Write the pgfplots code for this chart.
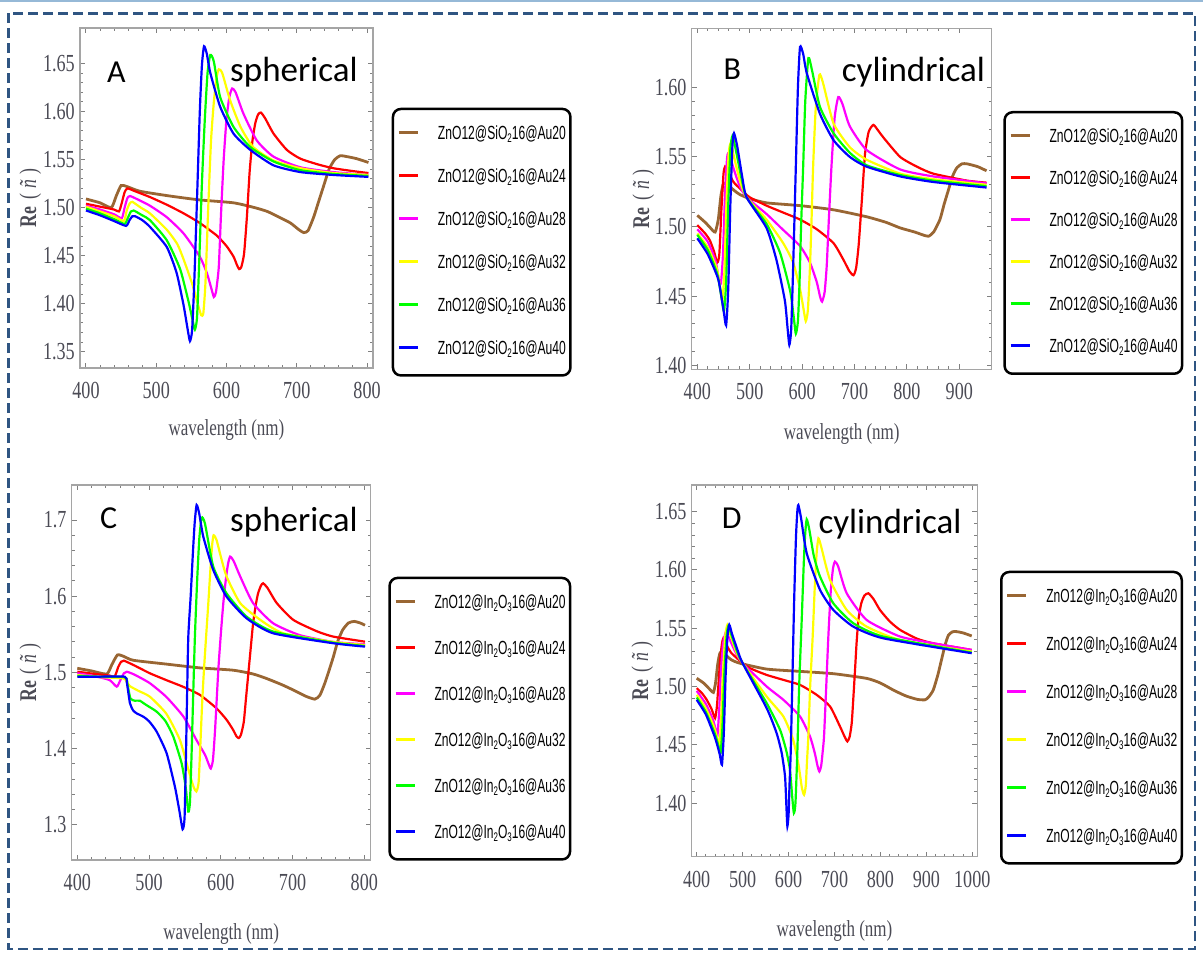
\documentclass[border=0pt]{standalone}
\usepackage{fontspec}
\usepackage{graphicx}
\usepackage{pgfplots}
\pgfplotsset{compat=1.18}
\newfontfamily\legfont{Liberation Sans}
\newfontfamily\tickfont[FakeStretch=0.74]{Liberation Serif}
\newfontfamily\titlefont{Carlito}
\definecolor{mbrown}{RGB}{153,102,51}
\definecolor{mred}{RGB}{255,0,0}
\definecolor{mmag}{RGB}{255,0,255}
\definecolor{myel}{RGB}{255,255,0}
\definecolor{mgreen}{RGB}{0,255,0}
\definecolor{mblue}{RGB}{0,0,255}
\definecolor{tickgray}{RGB}{75,75,85}
\definecolor{framegray}{RGB}{165,165,165}
\definecolor{borderblue}{RGB}{47,85,130}
\definecolor{lightblue}{RGB}{150,185,215}
\newcommand\sub[1]{\raisebox{-3bp}{\fontsize{12.5bp}{12.5bp}\selectfont #1}}
\newcommand\legS[1]{\resizebox{128bp}{\height}{ZnO12@SiO\sub{2}16@Au#1}}
\newcommand\legI[1]{\resizebox{131bp}{\height}{ZnO12@In\sub{2}O\sub{3}16@Au#1}}
\pgfplotsset{
 panel/.style={
  scale only axis, anchor=north west,
  axis line style={draw=framegray, line width=1.3bp},
  tick align=inside, xtick pos=both, ytick pos=both,
  xticklabel pos=lower, yticklabel pos=left,
  major tick length=5bp, minor tick length=3bp,
  tick style={draw=gray, line width=1bp},
  minor x tick num=4, minor y tick num=4,
  ticklabel style={font=\tickfont\fontsize{24.5bp}{26bp}\selectfont, text=tickgray},
  /pgf/number format/assume math mode=true,
  /pgf/number format/1000 sep={},
  scaled ticks=false,
  yticklabel style={anchor=east, inner sep=0pt, xshift=-5bp},
  xticklabel style={anchor=north, inner sep=0pt, yshift=-14bp},
  label style={font=\tickfont\fontsize{23bp}{25bp}\selectfont, text=tickgray},
  xlabel={wavelength (nm)},
  ylabel={\fontsize{24bp}{26bp}\selectfont{\bfseries Re}\hspace{7bp}(\hspace{5bp}\textit{ñ}\hspace{5bp})},
  legend cell align=left,
  legend image code/.code={\draw[##1,line width=3bp] (0bp,2bp) -- (19bp,2bp);},
  legend style={anchor=north west, draw=black, line width=2.5bp, rounded corners=8bp,
    inner xsep=4.5bp, inner ysep=17bp, column sep=18.5bp,
    font=\legfont\fontsize{19bp}{21bp}\selectfont,
    nodes={inner sep=0pt, text height=13.5bp, text depth=4bp}},
  every axis plot/.append style={line width=2.2bp, smooth, tension=0.35},
 },
 c20/.style={mbrown, line width=2.8bp},
 c24/.style={mred},
 c28/.style={mmag},
 c32/.style={myel},
 c36/.style={mgreen},
 c40/.style={mblue},
}
\begin{document}
\begin{tikzpicture}
\path[use as bounding box] (0,0) rectangle (1203bp,-954bp);
\draw[lightblue, line width=1.5bp] (0,-1bp) -- (1203bp,-1bp);
\draw[borderblue, line width=2.5bp, dash pattern=on 10bp off 5bp] (8.5bp,-13.3bp) rectangle (1195bp,-949bp);

% ---------------- A ----------------
\begin{axis}[panel, at={(80bp,-28bp)}, width=293bp, height=340bp,
  xmin=391.5, xmax=808.5, ymin=1.333, ymax=1.687,
  xtick={400,500,600,700,800}, ytick={1.35,1.40,1.45,1.50,1.55,1.60,1.65},
  yticklabel style={/pgf/number format/fixed, /pgf/number format/fixed zerofill, /pgf/number format/precision=2},
  xlabel style={at={(axis description cs:0.5,0)}, anchor=base, yshift=-67bp},
  ylabel style={at={(axis description cs:-0.150,0.5)}, anchor=base},
  legend style={at={(1.0638,0.7656)}, row sep=25.5bp}]
\addplot[c20] coordinates {(400,1.509) (420,1.505) (436,1.500) (443,1.512) (450,1.523) (458,1.522) (477,1.517) (520,1.512) (562,1.508) (610,1.505) (640,1.500) (658,1.496) (675,1.490) (691,1.484) (703,1.477) (710,1.474) (716,1.476) (724,1.490) (731,1.506) (738,1.522) (746,1.540) (754,1.550) (762,1.554) (772,1.553) (785,1.551) (802,1.547)};
\addlegendentry{\legS{20}}
\addplot[c24] coordinates {(400,1.504) (420,1.501) (440,1.498) (447,1.496) (451,1.505) (455,1.516) (459,1.520) (470,1.517) (491,1.511) (515,1.503) (539,1.494) (562,1.484) (586,1.471) (600,1.460) (610,1.449) (615,1.440) (618,1.436) (621,1.438) (625,1.452) (629,1.490) (633,1.538) (637,1.570) (641,1.588) (645,1.597) (649,1.599) (655,1.593) (667,1.577) (686,1.560) (705,1.551) (730,1.545) (752,1.541) (780,1.538) (802,1.536)};
\addlegendentry{\legS{24}}
\addplot[c28] coordinates {(400,1.502) (420,1.498) (440,1.493) (451,1.489) (455,1.500) (459,1.510) (463,1.512) (475,1.508) (491,1.502) (515,1.490) (539,1.473) (562,1.449) (572,1.432) (578,1.417) (582,1.407) (585,1.412) (589,1.438) (592,1.490) (596,1.550) (600,1.592) (604,1.615) (608,1.624) (613,1.620) (624,1.598) (643,1.570) (667,1.553) (705,1.542) (752,1.537) (802,1.534)};
\addlegendentry{\legS{28}}
\addplot[c32] coordinates {(400,1.501) (420,1.496) (440,1.491) (454,1.486) (458,1.497) (462,1.504) (466,1.506) (478,1.500) (491,1.494) (515,1.477) (530,1.462) (539,1.446) (551,1.421) (559,1.400) (564,1.388) (567,1.390) (570,1.421) (574,1.500) (578,1.570) (582,1.610) (586,1.636) (589,1.644) (594,1.640) (605,1.612) (620,1.584) (638,1.563) (667,1.549) (705,1.541) (752,1.536) (802,1.534)};
\addlegendentry{\legS{32}}
\addplot[c36] coordinates {(400,1.499) (420,1.494) (440,1.488) (455,1.483) (460,1.490) (464,1.496) (468,1.497) (480,1.492) (491,1.487) (515,1.466) (534,1.436) (546,1.402) (552,1.382) (555,1.373) (558,1.385) (561,1.440) (565,1.525) (569,1.590) (573,1.640) (577,1.659) (582,1.652) (591,1.615) (610,1.584) (634,1.563) (667,1.548) (705,1.539) (752,1.535) (802,1.533)};
\addlegendentry{\legS{36}}
\addplot[c40] coordinates {(400,1.497) (420,1.492) (440,1.486) (457,1.481) (462,1.487) (466,1.491) (470,1.491) (480,1.487) (491,1.480) (515,1.459) (529,1.432) (539,1.398) (545,1.372) (548,1.361) (551,1.372) (554,1.420) (558,1.508) (562,1.600) (565,1.648) (568,1.668) (572,1.660) (577,1.640) (591,1.605) (610,1.577) (634,1.560) (667,1.544) (705,1.537) (752,1.534) (802,1.532)};
\addlegendentry{\legS{40}}
\end{axis}

% ---------------- B ----------------
\begin{axis}[panel, at={(691.7bp,-28.3bp)}, width=300bp, height=341bp,
  xmin=389.3, xmax=961.8, ymin=1.3974, ymax=1.6424,
  xtick={400,500,600,700,800,900}, ytick={1.40,1.45,1.50,1.55,1.60},
  yticklabel style={/pgf/number format/fixed, /pgf/number format/fixed zerofill, /pgf/number format/precision=2},
  xlabel style={at={(axis description cs:0.5,0)}, anchor=base, yshift=-70bp},
  ylabel style={at={(axis description cs:-0.142,0.5)}, anchor=base},
  legend style={at={(1.0387,0.7575)}, row sep=24.5bp}]
\addplot[c20] coordinates {(400,1.508) (415,1.503) (425,1.499) (434,1.496) (440,1.505) (445,1.522) (450,1.531) (458,1.530) (470,1.526) (481,1.523) (500,1.520) (532,1.517) (596,1.515) (660,1.512) (723,1.507) (760,1.503) (787,1.499) (815,1.496) (830,1.494) (841,1.493) (851,1.496) (863,1.505) (871,1.516) (879,1.526) (887,1.536) (895,1.542) (905,1.545) (915,1.545) (935,1.543) (952,1.540)};
\addlegendentry{\legS{20}}
\addplot[c24] coordinates {(400,1.501) (415,1.495) (424,1.490) (432,1.482) (438,1.474) (442,1.480) (446,1.512) (450,1.538) (453,1.543) (458,1.540) (469,1.532) (485,1.526) (500,1.521) (532,1.515) (564,1.510) (596,1.505) (628,1.498) (660,1.488) (679,1.476) (690,1.468) (698,1.465) (703,1.470) (708,1.487) (714,1.519) (720,1.552) (727,1.568) (736,1.573) (745,1.569) (755,1.564) (787,1.550) (819,1.543) (850,1.538) (914,1.533) (952,1.5315)};
\addlegendentry{\legS{24}}
\addplot[c28] coordinates {(400,1.498) (420,1.489) (435,1.475) (441,1.462) (445,1.459) (449,1.480) (453,1.525) (457,1.550) (461,1.553) (468,1.543) (480,1.530) (494,1.521) (532,1.509) (564,1.4975) (596,1.486) (615,1.474) (628,1.460) (634,1.450) (638,1.446) (643,1.453) (647,1.472) (651,1.505) (656,1.543) (662,1.578) (669,1.593) (677,1.588) (691,1.572) (723,1.555) (787,1.541) (850,1.536) (952,1.531)};
\addlegendentry{\legS{28}}
\addplot[c32] coordinates {(400,1.495) (420,1.485) (437,1.470) (444,1.455) (448,1.447) (452,1.470) (456,1.520) (460,1.553) (464,1.560) (470,1.550) (482,1.532) (494,1.521) (532,1.505) (564,1.488) (583,1.474) (596,1.455) (603,1.440) (607,1.432) (611,1.440) (615,1.471) (618,1.505) (621,1.543) (626,1.585) (633,1.609) (640,1.603) (660,1.574) (691,1.557) (723,1.548) (787,1.538) (850,1.534) (952,1.530)};
\addlegendentry{\legS{32}}
\addplot[c36] coordinates {(400,1.494) (420,1.483) (438,1.466) (447,1.447) (451,1.439) (455,1.460) (459,1.515) (463,1.555) (467,1.565) (473,1.556) (484,1.535) (494,1.521) (532,1.502) (558,1.481) (577,1.454) (584,1.435) (588,1.423) (592,1.432) (595,1.459) (598,1.500) (602,1.543) (606,1.590) (612,1.621) (619,1.612) (634,1.586) (660,1.567) (691,1.553) (723,1.544) (787,1.537) (850,1.533) (952,1.529)};
\addlegendentry{\legS{36}}
\addplot[c40] coordinates {(400,1.4915) (420,1.480) (440,1.462) (450,1.440) (455,1.429) (459,1.455) (463,1.515) (467,1.558) (470,1.567) (476,1.558) (486,1.535) (494,1.521) (532,1.499) (551,1.476) (567,1.447) (572,1.428) (575.6,1.415) (579,1.425) (582,1.459) (585,1.500) (588,1.543) (592,1.600) (596,1.629) (602,1.624) (609,1.610) (634,1.581) (660,1.562) (691,1.550) (723,1.543) (787,1.536) (850,1.532) (952,1.528)};
\addlegendentry{\legS{40}}
\end{axis}

% ---------------- C ----------------
\begin{axis}[panel, at={(71.7bp,-485bp)}, width=299bp, height=375bp,
  xmin=392.2, xmax=808.9, ymin=1.254, ymax=1.7459,
  xtick={400,500,600,700,800}, ytick={1.3,1.4,1.5,1.6,1.7},
  yticklabel style={/pgf/number format/fixed, /pgf/number format/fixed zerofill, /pgf/number format/precision=1},
  xlabel style={at={(axis description cs:0.5,0)}, anchor=base, yshift=-79bp},
  ylabel style={at={(axis description cs:-0.119,0.5)}, anchor=base},
  legend style={at={(1.0589,0.7555)}, row sep=28.5bp}]
\addplot[c20] coordinates {(400,1.5055) (420,1.502) (441,1.498) (448,1.510) (456,1.523) (465,1.521) (478,1.516) (524,1.511) (571,1.506) (617,1.503) (645,1.498) (664,1.492) (685,1.484) (701,1.477) (718,1.469) (731,1.465) (738,1.470) (745,1.486) (751,1.503) (757,1.521) (763,1.541) (770,1.556) (778,1.565) (786,1.567) (794,1.565) (801,1.562)};
\addlegendentry{\legI{20}}
\addplot[c24] coordinates {(400,1.501) (425,1.498) (445,1.496) (452,1.4945) (457,1.507) (461,1.514) (465,1.5155) (480,1.509) (501,1.499) (524,1.490) (548,1.481) (571,1.4705) (594,1.453) (608,1.438) (617,1.425) (622,1.416) (625,1.414) (628,1.418) (632,1.435) (635,1.465) (638,1.495) (642,1.535) (645,1.5645) (649,1.590) (652,1.604) (656,1.614) (659,1.617) (665,1.611) (678,1.591) (701,1.569) (734,1.554) (757,1.547) (801,1.5404)};
\addlegendentry{\legI{24}}
\addplot[c28] coordinates {(400,1.499) (425,1.495) (445,1.490) (455,1.4814) (460,1.490) (465,1.499) (469,1.501) (480,1.497) (501,1.486) (524,1.468) (548,1.442) (566,1.4115) (578,1.392) (583,1.380) (586,1.374) (589,1.385) (592,1.4246) (596.5,1.503) (600,1.550) (603.5,1.591) (607,1.622) (610,1.642) (613,1.652) (618,1.646) (627,1.626) (645,1.591) (673,1.5645) (710,1.549) (757,1.540) (801,1.537)};
\addlegendentry{\legI{28}}
\addplot[c32] coordinates {(400,1.4967) (430,1.494) (464,1.4923) (468,1.489) (473,1.4823) (485,1.476) (501,1.4683) (524,1.446) (543,1.4115) (555,1.372) (562,1.350) (566,1.344) (569,1.355) (571,1.394) (574,1.460) (576.5,1.503) (579.5,1.547) (582.6,1.591) (585.5,1.635) (588,1.668) (590,1.680) (594,1.674) (600,1.652) (608,1.626) (627,1.591) (655,1.569) (687,1.5514) (757,1.540) (801,1.536)};
\addlegendentry{\legI{32}}
\addplot[c36] coordinates {(400,1.4954) (430,1.4945) (466.4,1.4937) (470,1.484) (474,1.466) (480,1.463) (487,1.463) (495,1.458) (510.6,1.4486) (523,1.436) (533.8,1.4158) (545.4,1.3809) (551,1.350) (554.7,1.3175) (557,1.330) (559.3,1.394) (561.5,1.470) (563.9,1.547) (567,1.620) (570,1.675) (573.3,1.703) (578,1.695) (589.5,1.6388) (608,1.6038) (636,1.5732) (673,1.5536) (757,1.5391) (801,1.5348)};
\addlegendentry{\legI{36}}
\addplot[c40] coordinates {(400,1.4945) (430,1.4945) (466,1.4945) (469,1.487) (473.4,1.4596) (478,1.450) (482.7,1.4464) (492,1.442) (500,1.436) (510.6,1.4224) (524.5,1.394) (536,1.3503) (542,1.320) (546.8,1.2943) (549.5,1.310) (551.5,1.394) (553,1.470) (554.7,1.547) (558,1.600) (561,1.655) (563.5,1.695) (566.3,1.7197) (570,1.708) (575.6,1.6781) (589.5,1.6344) (608,1.5995) (636,1.571) (673,1.5514) (757,1.5383) (801,1.5339)};
\addlegendentry{\legI{40}}
\end{axis}

% ---------------- D ----------------
\begin{axis}[panel, at={(691.7bp,-485bp)}, width=285.6bp, height=371.7bp,
  xmin=389.1, xmax=1010.9, ymin=1.354, ymax=1.6729,
  xtick={400,500,600,700,800,900,1000}, ytick={1.40,1.45,1.50,1.55,1.60,1.65},
  yticklabel style={/pgf/number format/fixed, /pgf/number format/fixed zerofill, /pgf/number format/precision=2},
  xlabel style={at={(axis description cs:0.5,0)}, anchor=base, yshift=-80bp},
  ylabel style={at={(axis description cs:-0.153,0.5)}, anchor=base},
  legend style={at={(1.0795,0.7694)}, row sep=30.5bp}]
\addplot[c20] coordinates {(400,1.5071) (415,1.503) (430,1.497) (436.3,1.4949) (441,1.503) (446,1.520) (451,1.529) (460,1.528) (475,1.523) (494,1.520) (552,1.515) (625,1.513) (698,1.511) (770,1.507) (800,1.503) (828,1.497) (855,1.492) (880,1.489) (897,1.4886) (905,1.491) (915,1.497) (925,1.510) (933,1.523) (941,1.536) (948,1.544) (957,1.547) (966,1.5471) (980,1.546) (998.7,1.5434)};
\addlegendentry{\legI{20}}
\addplot[c24] coordinates {(400,1.4986) (412,1.494) (421.8,1.4886) (432,1.481) (440,1.4729) (444,1.483) (447,1.500) (451,1.523) (455,1.537) (458,1.5414) (463,1.537) (475,1.529) (500,1.520) (516,1.5157) (552,1.510) (588.7,1.5057) (625,1.5014) (661,1.4929) (690.3,1.4829) (712,1.4657) (722,1.457) (728,1.4529) (733,1.457) (737.5,1.4686) (741,1.490) (744.7,1.5143) (748,1.537) (752,1.5571) (758,1.571) (765,1.578) (773.7,1.580) (785,1.575) (799,1.5657) (820,1.556) (842.7,1.5486) (880,1.541) (915,1.5371) (998.7,1.5314)};
\addlegendentry{\legI{24}}
\addplot[c28] coordinates {(400,1.4963) (420,1.485) (435,1.472) (442,1.462) (445,1.4571) (449,1.480) (453,1.515) (458,1.538) (463.9,1.5471) (470,1.542) (485,1.529) (500,1.520) (552.4,1.500) (588.7,1.4886) (625,1.4743) (646.7,1.4571) (657,1.443) (663,1.432) (667,1.4271) (671,1.432) (674,1.443) (677.2,1.4571) (682,1.500) (686.6,1.5429) (692,1.583) (697,1.602) (701,1.6071) (708,1.603) (726.6,1.580) (770,1.5571) (842.7,1.5429) (915,1.5371) (998.7,1.5314)};
\addlegendentry{\legI{28}}
\addplot[c32] coordinates {(400,1.4929) (420,1.481) (438,1.465) (445,1.455) (449.3,1.4486) (453,1.470) (457,1.510) (462,1.543) (466.8,1.5529) (472,1.546) (486,1.530) (500,1.520) (552.4,1.4914) (588.7,1.4743) (610,1.4543) (622,1.432) (629,1.413) (633.7,1.4071) (637.5,1.415) (640,1.435) (643,1.4571) (647,1.500) (652.5,1.5429) (657,1.585) (661,1.614) (665,1.6271) (671,1.620) (690.3,1.5914) (726.6,1.5657) (770,1.5514) (842.7,1.540) (998.7,1.530)};
\addlegendentry{\legI{32}}
\addplot[c36] coordinates {(400,1.4906) (420,1.478) (440,1.459) (448,1.448) (452,1.4429) (456,1.465) (460,1.510) (465,1.543) (469,1.552) (475,1.545) (488,1.530) (500,1.520) (552.4,1.4857) (581.4,1.4629) (595,1.445) (603,1.4286) (608,1.405) (611.6,1.3914) (615,1.400) (619,1.4429) (623,1.500) (628.6,1.5571) (633,1.605) (636,1.630) (639.5,1.6434) (645,1.635) (655,1.612) (668.5,1.5943) (697.5,1.5714) (741,1.5543) (806,1.5429) (998.7,1.5291)};
\addlegendentry{\legI{36}}
\addplot[c40] coordinates {(400,1.4886) (420,1.476) (440,1.456) (450,1.442) (455,1.4329) (459,1.460) (463,1.510) (467,1.543) (471,1.5529) (477,1.545) (490,1.530) (500,1.520) (552.4,1.4814) (574,1.460) (585,1.443) (592.3,1.4229) (595.5,1.395) (597.4,1.380) (600,1.390) (602,1.415) (604.6,1.4429) (608,1.500) (612,1.5714) (616,1.627) (619,1.650) (621.3,1.6557) (627,1.645) (639.5,1.6143) (668.5,1.5829) (697.5,1.5657) (741,1.5514) (806,1.5414) (998.7,1.5286)};
\addlegendentry{\legI{40}}
\end{axis}

% titles
\begin{scope}[every node/.style={inner sep=0pt, anchor=base west}]
\node[font=\titlefont\fontsize{32bp}{34bp}\selectfont] at (107bp,-82bp) {A};
\node[font=\titlefont\fontsize{35bp}{37bp}\selectfont] at (230bp,-81.7bp) {spherical};
\node[font=\titlefont\fontsize{32bp}{34bp}\selectfont] at (723.3bp,-79.3bp) {B};
\node[font=\titlefont\fontsize{35bp}{37bp}\selectfont] at (841.7bp,-81.7bp) {cylindrical};
\node[font=\titlefont\fontsize{32bp}{34bp}\selectfont] at (100bp,-528.3bp) {C};
\node[font=\titlefont\fontsize{35bp}{37bp}\selectfont] at (230bp,-531.7bp) {spherical};
\node[font=\titlefont\fontsize{32bp}{34bp}\selectfont] at (721.7bp,-528.3bp) {D};
\node[font=\titlefont\fontsize{35bp}{37bp}\selectfont] at (818.3bp,-533.3bp) {cylindrical};
\end{scope}
\end{tikzpicture}
\end{document}
